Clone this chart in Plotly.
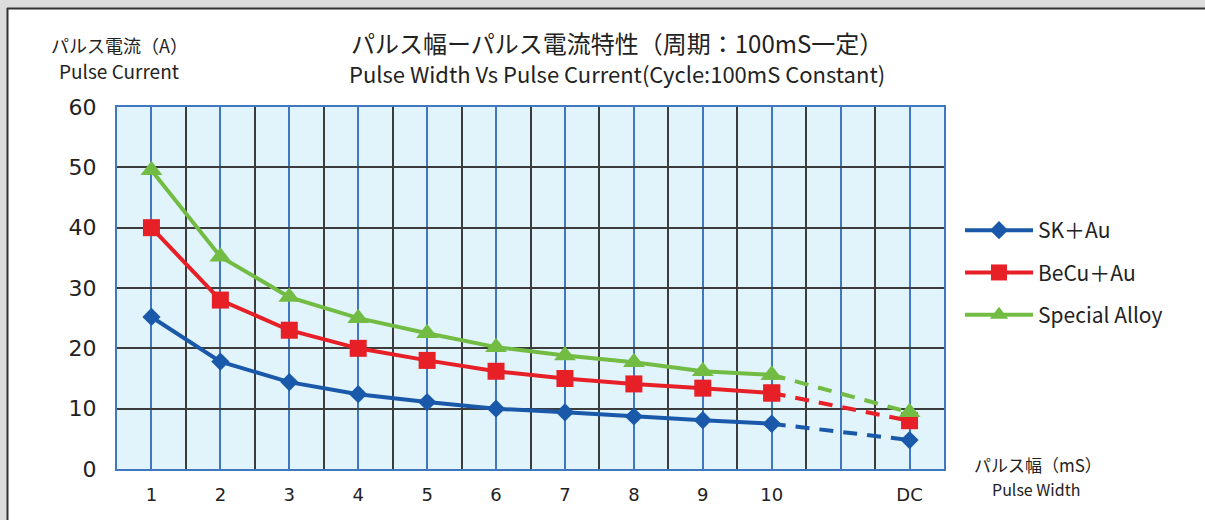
import plotly.graph_objects as go

# ---- data ----
x_labels = ["1", "2", "3", "4", "5", "6", "7", "8", "9", "10", "", "DC"]
x_pos = [1, 2, 3, 4, 5, 6, 7, 8, 9, 10]
x_dc = 12
series_names = ["SK＋Au", "BeCu＋Au", "Special Alloy"]
sk_au = [25.2, 17.8, 14.4, 12.4, 11.1, 10.0, 9.4, 8.7, 8.1, 7.5]
sk_au_dc = 4.8
becu_au = [40.0, 28.0, 23.0, 20.0, 18.0, 16.2, 15.0, 14.1, 13.4, 12.6]
becu_au_dc = 8.0
special = [49.5, 35.2, 28.5, 25.0, 22.5, 20.2, 18.8, 17.7, 16.2, 15.6]
special_dc = 9.4
y_ticks = [0, 10, 20, 30, 40, 50, 60]

colors = ["#1a59a9", "#e71f26", "#72bc44"]
symbols = ["diamond", "square", "triangle-up"]
sizes = [14, 17, 19]
values = [sk_au, becu_au, special]
dc_values = [sk_au_dc, becu_au_dc, special_dc]

FONT = "Noto Sans CJK JP"
NUMFONT = "DejaVu Sans"

fig = go.Figure()
for name, vals, dcv, col, sym, sz in zip(series_names, values, dc_values, colors, symbols, sizes):
    fig.add_trace(go.Scatter(
        x=x_pos, y=vals, mode="lines+markers", name=name, legendgroup=name,
        line=dict(color=col, width=4),
        marker=dict(symbol=sym, size=sz, color=col, line=dict(width=0)),
    ))
    fig.add_trace(go.Scatter(
        x=[x_pos[-1], x_dc], y=[vals[-1], dcv], mode="lines+markers", legendgroup=name,
        showlegend=False,
        line=dict(color=col, width=4, dash="14px,10px"),
        marker=dict(symbol=sym, size=sz, color=col, line=dict(width=0)),
    ))

W, H = 1205, 520
L, R, T, B = 117, 261, 107, 51
pw, ph = W - L - R, H - T - B

def px_x(x):
    return (x - L) / pw

def px_y(y):
    return (H - B - y) / ph

grid_dark = "#3c3c3c"
blue_line = "#3f78c0"

fig.update_layout(
    width=W, height=H,
    margin=dict(l=L, r=R, t=T, b=B),
    paper_bgcolor="white",
    plot_bgcolor="#e1f3fb",
    font=dict(family=FONT, color="#222222"),
    showlegend=True,
    legend=dict(
        x=px_x(960), y=px_y(210), xanchor="left", yanchor="top",
        font=dict(size=21, family=FONT, color="#222222"),
        itemwidth=68, tracegroupgap=12, bgcolor="rgba(0,0,0,0)",
    ),
    xaxis=dict(
        range=[0.5, 12.5],
        tickvals=list(range(1, 13)), ticktext=x_labels,
        showgrid=True, gridcolor=blue_line, gridwidth=1.5,
        minor=dict(tickvals=[i + 0.5 for i in range(1, 12)], showgrid=True,
                   gridcolor=grid_dark, gridwidth=1.5, ticks=""),
        showline=True, linecolor=blue_line, linewidth=2, mirror=True,
        ticks="", zeroline=False,
        tickfont=dict(size=18, family=NUMFONT, color="#222222"),
        ticklabelstandoff=8,
    ),
    yaxis=dict(
        range=[0, 60],
        tickvals=y_ticks,
        showgrid=True, gridcolor=grid_dark, gridwidth=1.5,
        showline=True, linecolor=blue_line, linewidth=2, mirror=True,
        ticks="", zeroline=False,
        tickfont=dict(size=22, family=NUMFONT, color="#222222"),
        ticklabelstandoff=14,
    ),
)

annotations = [
    dict(text="パルス幅ーパルス電流特性（周期：100mS一定）", x=px_x(617), y=px_y(42), size=24),
    dict(text="Pulse Width Vs Pulse Current(Cycle:100mS Constant)", x=px_x(617), y=px_y(73), size=22),
    dict(text="パルス電流（A）", x=px_x(119), y=px_y(45), size=18),
    dict(text="Pulse Current", x=px_x(119), y=px_y(70), size=19),
    dict(text="パルス幅（mS）", x=px_x(1038), y=px_y(464), size=17),
    dict(text="Pulse Width", x=px_x(1036), y=px_y(489), size=16),
]
for a in annotations:
    fig.add_annotation(text=a["text"], x=a["x"], y=a["y"], xref="paper", yref="paper",
                       xanchor="center", yanchor="middle", showarrow=False,
                       font=dict(size=a["size"], family=FONT, color="#222222"))

# page background strips and border of the panel
grey = "#dcdcdc"
fig.add_shape(type="rect", xref="paper", yref="paper", x0=px_x(-5), x1=px_x(W + 5),
              y0=px_y(8), y1=px_y(-5), fillcolor=grey, line=dict(width=0), layer="above")
fig.add_shape(type="rect", xref="paper", yref="paper", x0=px_x(-5), x1=px_x(7),
              y0=px_y(H + 5), y1=px_y(-5), fillcolor=grey, line=dict(width=0), layer="above")
fig.add_shape(type="line", xref="paper", yref="paper", x0=px_x(7), x1=px_x(W + 5),
              y0=px_y(8.5), y1=px_y(8.5), line=dict(color="#333333", width=2), layer="above")
fig.add_shape(type="line", xref="paper", yref="paper", x0=px_x(7.5), x1=px_x(7.5),
              y0=px_y(H + 5), y1=px_y(8), line=dict(color="#333333", width=2), layer="above")

fig.write_html("out.html", config={"displayModeBar": False},
               post_script="document.body.style.margin='0';document.body.style.overflow='hidden';")
